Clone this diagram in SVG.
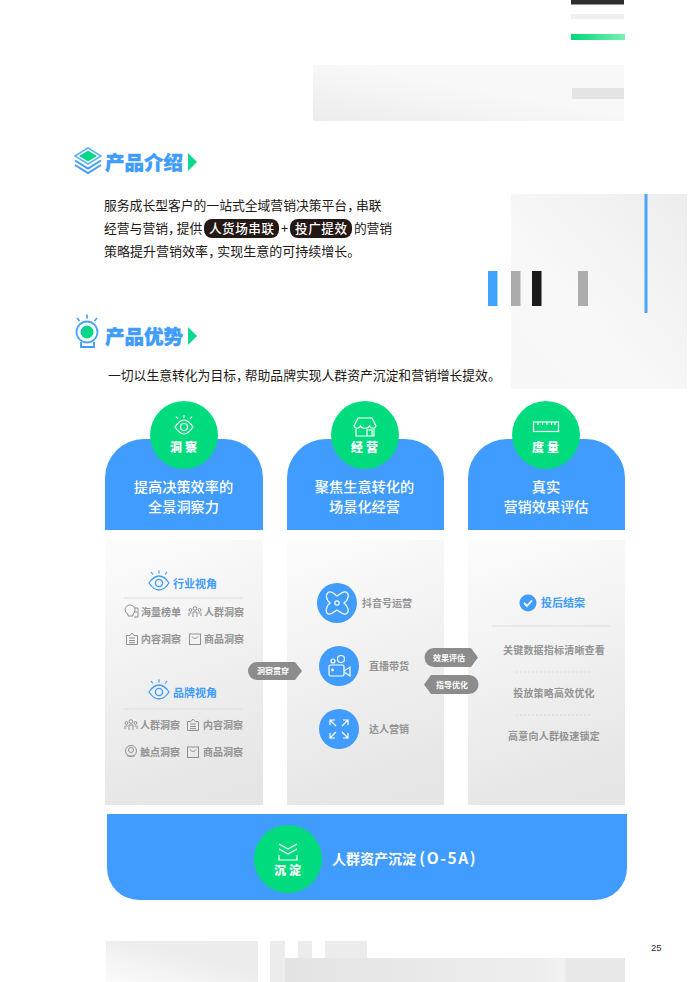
<svg xmlns="http://www.w3.org/2000/svg" width="699" height="982" viewBox="0 0 699 982">
<style>
text{font-family:"Noto Sans CJK SC","Noto Sans",sans-serif}
.body{font-size:12.8px;fill:#231815;font-weight:400}
.pilltxt{font-size:12.6px;fill:#fff;font-weight:500}
.head{font-size:19.500px;font-weight:900;fill:#3f9cff;stroke:#3f9cff;stroke-width:.4}
.cap{font-size:14.200px;font-weight:500;fill:#fff;text-anchor:middle}
.badge{font-size:12px;font-weight:900;fill:#fff;text-anchor:middle}
.sub{font-size:11px;font-weight:700;fill:#3f9cff}
.item{font-size:10px;font-weight:700;fill:#939393}
.tag{font-size:8px;font-weight:700;fill:#fff;text-anchor:middle}
.blue{fill:#409cff}
.green{fill:#00dc7d}
.panel{fill:url(#pg)}
.ic{fill:none;stroke:#8f8f8f;stroke-width:1}
.wi{fill:none;stroke:#fff;stroke-width:1.2}
.rule{stroke:#d9d9d9;stroke-width:.8}
.dash{stroke:#cfcfcf;stroke-width:.6;stroke-dasharray:2 2}
</style>
<defs>
<linearGradient id="pg" x1="0.3" y1="0" x2="0.5" y2="1"><stop offset="0" stop-color="#fbfbfb"/><stop offset="1" stop-color="#e5e5e5"/></linearGradient>
<linearGradient id="g1" x1="1" y1="0" x2="0" y2="1"><stop offset="0" stop-color="#ededed"/><stop offset=".6" stop-color="#f8f8f8"/><stop offset="1" stop-color="#f7f7f7"/></linearGradient>
<linearGradient id="g2" x1="0" y1="1" x2="1" y2="0"><stop offset="0" stop-color="#ececec"/><stop offset=".55" stop-color="#f8f8f8"/><stop offset="1" stop-color="#f8f8f8"/></linearGradient>
<linearGradient id="g3" x1="0" y1="1" x2="1" y2="0"><stop offset="0" stop-color="#fbfbfb"/><stop offset=".6" stop-color="#ececec"/><stop offset="1" stop-color="#ebebeb"/></linearGradient>
<linearGradient id="g4" x1="0" y1="0" x2="1" y2="0"><stop offset="0" stop-color="#e3e3e3"/><stop offset=".75" stop-color="#eeeeee"/><stop offset=".82" stop-color="#f2f2f2"/><stop offset=".83" stop-color="#e8e8e8"/><stop offset="1" stop-color="#e8e8e8"/></linearGradient>
<linearGradient id="gg" x1="0" y1="0" x2="1" y2="0"><stop offset="0" stop-color="#00d77a"/><stop offset="1" stop-color="#7af0b4"/></linearGradient>
<linearGradient id="ga" x1="0" y1="0" x2="1" y2="0"><stop offset="0" stop-color="#16d59a"/><stop offset="1" stop-color="#00dc7d"/></linearGradient>
<linearGradient id="gb" x1="0" y1="0" x2="1" y2="1"><stop offset="0" stop-color="#2fb4d8"/><stop offset=".5" stop-color="#00dc7d"/><stop offset="1" stop-color="#00dc7d"/></linearGradient>
<g id="eye"><path d="M-10 0C-6-6 -3-7 0-7S6-6 10 0C6 6 3 7 0 7S-6 6-10 0Z" fill="none" stroke="#409cff" stroke-width="1.3"/><circle r="3.6" fill="none" stroke="#409cff" stroke-width="1.4"/><path d="M0-9.5V-12.5M-6-8.5L-8-11M6-8.5L8-11" stroke="#409cff" stroke-width="1.2" fill="none"/></g>
<g id="people" class="ic"><circle cx="0" cy="-3.500" r="1.800"/><circle cx="-4.500" cy="-2" r="1.400"/><circle cx="4.500" cy="-2" r="1.400"/><path d="M-2 5V0H2V5M-6 4V0.500M6 4V0.500M-3.500 1H-5M3.500 1H5"/></g>
<g id="doc" class="ic"><path d="M-5.500-3.500H-2L0-6L2-3.500H5.500V5.500H-5.500Z"/><path d="M-3-1H3M-3 1.500H3M-3 3.700H3"/></g>
<g id="box" class="ic"><rect x="-5.500" y="-5" width="11" height="10.500"/><path d="M-3-2.500C-1.500 0 1.500 0 3-2.500"/></g>
</defs>

<g id="decor">
<rect x="571" y="0" width="53" height="4.500" fill="#2d2d2d"/>
<rect x="571" y="14" width="53" height="5" fill="#efefef"/>
<rect x="571" y="34" width="54" height="6" fill="url(#gg)"/>
<rect x="313" y="65" width="311" height="56" fill="url(#g2)"/>
<rect x="572" y="88" width="52" height="11" fill="#e4e4e4"/>
<rect x="511" y="194" width="176" height="195" fill="url(#g1)"/>
<rect x="644.500" y="194" width="3" height="119" fill="#4aa6f8"/>
<rect x="488" y="271" width="9.500" height="35" fill="#3fa4fb"/>
<rect x="511" y="271" width="9.500" height="35" fill="#acacac"/>
<rect x="532" y="271" width="9.500" height="35" fill="#1c1c1c"/>
<rect x="578" y="271" width="10" height="35" fill="#acacac"/>
<rect x="106" y="941" width="152" height="41" fill="url(#g3)"/>
<rect x="270" y="941" width="15" height="41" fill="#ececec"/>
<rect x="298" y="941" width="14" height="17" fill="#ececec"/>
<rect x="325" y="941" width="42" height="17" fill="#ececec"/>
<rect x="285" y="958" width="340" height="24" fill="url(#g4)"/>
</g>

<g id="intro-heading">
<path d="M75 165L88 173L101 165" fill="none" stroke="#3f9cff" stroke-width="2"/>
<path d="M75 160.500L88 168.500L101 160.500" fill="none" stroke="#3f9cff" stroke-width="2"/>
<path d="M75 156L88 148L101 156L88 164Z" fill="none" stroke="#5fb4f0" stroke-width="1.500"/>
<path d="M79 156L88 150.500L97 156L88 161.500Z" fill="url(#gb)"/>
<text class="head" x="105" y="170">产品介绍</text>
<path d="M188 153L197 162L188 171Z" fill="url(#ga)"/>
</g>
<g id="intro-body">
<text class="body" x="104" y="210" dx="0 0 0 0 0 0 0 0 0 0 0 0 0 0 0 0 0 0 0 0 -4">服务成长型客户的一站式全域营销决策平台，串联</text>
<text class="body" x="104" y="233" dx="0 0 0 0 0 0 -4">经营与营销，提供</text>
<rect x="204" y="219" width="75" height="19" rx="8" fill="#231815"/>
<text class="pilltxt" x="209" y="233" textLength="65">人货场串联</text>
<text class="body" x="281" y="233">+</text>
<rect x="290" y="219" width="62" height="19" rx="8" fill="#231815"/>
<text class="pilltxt" x="295" y="233" textLength="52">投广提效</text>
<text class="body" x="354" y="233" textLength="38">的营销</text>
<text class="body" x="104" y="256" style="font-size:13px" dx="0 0 0 0 0 0 0 0 0 -4">策略提升营销效率，实现生意的可持续增长。</text>
</g>

<g id="advantage-heading">
<circle cx="87" cy="332" r="10.500" fill="none" stroke="#4aa6f8" stroke-width="1.800"/>
<circle cx="87" cy="332" r="6.500" fill="url(#gb)"/>
<path d="M87 314.500V318.500M77 318L79.500 321M97 318L94.500 321" stroke="#3f9cff" stroke-width="1.600" fill="none"/>
<path d="M81 342V347H94V342" fill="none" stroke="#3f9cff" stroke-width="1.800"/>
<text class="head" x="105" y="344">产品优势</text>
<path d="M188 327L197 336L188 345Z" fill="url(#ga)"/>
<text class="body" x="108" y="380" dx="0 0 0 0 0 0 0 0 0 0 0 -4">一切以生意转化为目标，帮助品牌实现人群资产沉淀和营销增长提效。</text>
</g>

<g id="card-insight">
<path class="blue" d="M105 530V478A39 39 0 0 1 144 439H224A39 39 0 0 1 263 478V530Z"/>
<text class="cap" x="183.500" y="492">提高决策效率的</text>
<text class="cap" x="183.500" y="512">全景洞察力</text>
<circle class="green" cx="184" cy="435" r="34"/>
<g transform="translate(184,427)"><path d="M-9 0C-5-6-2-7 0-7S5-6 9 0C5 6 2 7 0 7S-5 6-9 0Z" class="wi"/><circle r="3.500" class="wi"/><path d="M0-9V-12M-6-8L-8-10.500M6-8L8-10.500" class="wi"/></g>
<text class="badge" x="185" y="452" letter-spacing="3">洞察</text>
</g>
<g id="card-operate">
<path class="blue" d="M287 530V478A39 39 0 0 1 326 439H405A39 39 0 0 1 444 478V530Z"/>
<text class="cap" x="364.500" y="492">聚焦生意转化的</text>
<text class="cap" x="364.500" y="512">场景化经营</text>
<circle class="green" cx="365" cy="435" r="34"/>
<g class="wi"><path d="M358 418H372L376 426C375 429 371 429 369.500 426C368 429 362 429 360.500 426C359 429 355 429 354 426Z"/><path d="M356 429V436H374V429M367 436V430H372V436"/></g>
<text class="badge" x="366" y="452" letter-spacing="3">经营</text>
</g>
<g id="card-measure">
<path class="blue" d="M468 530V478A39 39 0 0 1 507 439H586A39 39 0 0 1 625 478V530Z"/>
<text class="cap" x="546" y="492">真实</text>
<text class="cap" x="546" y="512">营销效果评估</text>
<circle class="green" cx="546" cy="435" r="34"/>
<g class="wi"><rect x="533.500" y="422" width="25" height="9.500"/><path d="M538 422V425M542.500 422V425M547 422V425M551.500 422V425M555 422V425"/></g>
<text class="badge" x="547" y="452" letter-spacing="3">度量</text>
</g>

<g id="panel-insight">
<rect class="panel" x="105" y="540" width="158" height="265"/>
<use href="#eye" x="159" y="583"/>
<text class="sub" x="173" y="588">行业视角</text>
<line class="rule" x1="124" y1="598" x2="243" y2="598"/>
<g class="ic"><path d="M125 610a5 5 0 1 1 8 4v2h-5v-2a5 5 0 0 1-3-4ZM134 608h4v9h-4M134 612h3"/></g>
<text class="item" x="141" y="616">海量榜单</text>
<use href="#people" x="195" y="612"/>
<text class="item" x="204" y="616">人群洞察</text>
<use href="#doc" x="132" y="639"/>
<text class="item" x="141" y="643">内容洞察</text>
<use href="#box" x="195" y="639"/>
<text class="item" x="204" y="643">商品洞察</text>
<use href="#eye" x="159" y="692"/>
<text class="sub" x="173" y="697">品牌视角</text>
<line class="rule" x1="124" y1="709" x2="243" y2="709"/>
<use href="#people" x="131" y="725"/>
<text class="item" x="140" y="729">人群洞察</text>
<use href="#doc" x="193" y="725"/>
<text class="item" x="203" y="729">内容洞察</text>
<g class="ic"><circle cx="131" cy="751" r="5.500"/><circle cx="131" cy="750" r="2.500"/><path d="M127 756H135"/></g>
<text class="item" x="140" y="756">触点洞察</text>
<use href="#box" x="193" y="752"/>
<text class="item" x="203" y="756">商品洞察</text>
</g>

<g id="panel-operate">
<rect class="panel" x="287" y="540" width="157" height="265"/>
<circle class="blue" cx="337" cy="603" r="20"/>
<g class="wi"><circle cx="337" cy="603" r="2.200"/><path d="M329 592C333 591 335 595 337 596C339 595 342 591 346 592C350 594 348 601 344 603C348 606 350 612 346 614C342 615 339 611 337 610C335 611 332 615 328 614C325 612 326 606 330 603C326 600 325 594 329 592Z"/></g>
<text class="item" x="362" y="607">抖音号运营</text>
<circle class="blue" cx="339" cy="666" r="20"/>
<g class="wi"><rect x="329" y="665" width="15" height="11" rx="1.500"/><path d="M344 671L350 667V676L344 672"/><circle cx="333" cy="661" r="2"/><circle cx="341" cy="659" r="3.500"/><circle cx="332.500" cy="670" r=".8"/></g>
<text class="item" x="369" y="670">直播带货</text>
<circle class="blue" cx="339" cy="729" r="20"/>
<g class="wi"><path d="M330 725V720H335M330 720L336 726M348 725V720H343M348 720L342 726M330 733V738H335M330 738L336 732M348 733V738H343M348 738L342 732"/></g>
<text class="item" x="369" y="733">达人营销</text>
</g>

<g id="panel-measure">
<rect class="panel" x="468" y="540" width="157" height="265"/>
<circle class="blue" cx="528" cy="603" r="8.500"/>
<path d="M524 603L527 606L532 600.500" fill="none" stroke="#fff" stroke-width="1.800"/>
<text class="sub" x="541" y="607">投后结案</text>
<line class="rule" x1="492" y1="626" x2="610" y2="626"/>
<text class="item" x="554" y="654" text-anchor="middle" letter-spacing=".2">关键数据指标清晰查看</text>
<line class="dash" x1="516" y1="672" x2="592" y2="672"/>
<text class="item" x="554" y="697" text-anchor="middle" letter-spacing=".2">投放策略高效优化</text>
<line class="dash" x1="516" y1="715" x2="592" y2="715"/>
<text class="item" x="554" y="740" text-anchor="middle" letter-spacing=".2">高意向人群极速锁定</text>
</g>

<g id="connectors">
<path d="M257 662H295L302 671L295 680H257A9 9 0 0 1 257 662Z" fill="#8c8c8c"/>
<text class="tag" x="273" y="674">洞察贯穿</text>
<path d="M434 648H471L478 657.500L471 667H434A9.500 9.500 0 0 1 434 648Z" fill="#8c8c8c"/>
<text class="tag" x="449" y="661">效果评估</text>
<path d="M469 675H431L424 684.500L431 694H469A9.500 9.500 0 0 0 469 675Z" fill="#8c8c8c"/>
<text class="tag" x="452" y="688">指导优化</text>
</g>

<g id="band">
<path class="blue" d="M107 814H627V868A32 32 0 0 1 595 900H139A32 32 0 0 1 107 868Z"/>
<circle class="green" cx="288" cy="859" r="34"/>
<g class="wi"><path d="M279 844L288 849L297 844M279 849L288 854L297 849M279 855V860H297V855"/></g>
<text class="badge" x="289" y="875" letter-spacing="3">沉淀</text>
<text x="332" y="864" font-size="14" font-weight="700" fill="#fff">人群资产沉淀 <tspan font-size="15.500" letter-spacing="1.600">(O-5A)</tspan></text>
</g>

<g id="page-number"><text x="651" y="951" font-size="9.500" fill="#333" style="font-family:'Liberation Sans',sans-serif">25</text></g>
</svg>
